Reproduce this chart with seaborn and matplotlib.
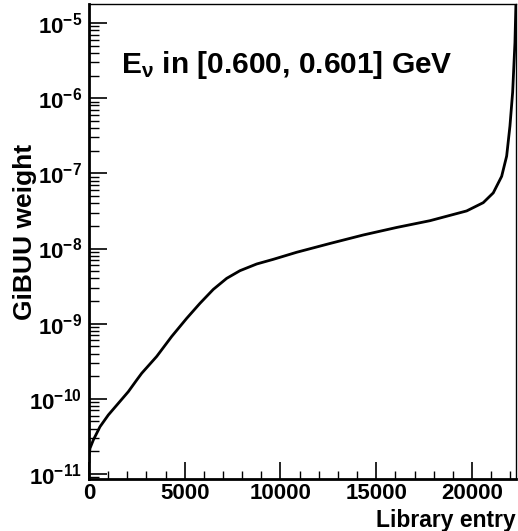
"""
GiBUU weight per library entry, ROOT-style log plot.
"""

import matplotlib
matplotlib.use("Agg")
import matplotlib.pyplot as plt
import matplotlib.ticker as mticker
import numpy as np
import pandas as pd
import seaborn as sns

# values
entries = [0, 0, 52, 225, 574, 1008, 1530, 2052, 2491, 2752, 3535, 4319,
           5102, 5796, 6491, 7191, 7885, 8757, 9624, 10846, 12585, 14324,
           16068, 17807, 19723, 20590, 21112, 21551, 21812, 21984, 22125,
           22245, 22300]
log_weights = [-10.85, -10.77, -10.658, -10.548, -10.371, -10.215, -10.06,
               -9.905, -9.75, -9.66, -9.436, -9.17, -8.929, -8.729, -8.544,
               -8.397, -8.295, -8.206, -8.144, -8.05, -7.933, -7.82, -7.72,
               -7.63, -7.50, -7.39, -7.26, -7.04, -6.77, -6.37, -5.92, -5.26,
               -4.70]
weights = [10.0 ** v for v in log_weights]

x_ticks = [0, 5000, 10000, 15000, 20000]
y_ticks = [1e-11, 1e-10, 1e-9, 1e-8, 1e-7, 1e-6, 1e-5]
x_range = (0, 22300)
y_range = (10 ** -11.0665, 10 ** -4.747)

title_text = r"E$_{\nu}$ in [0.600, 0.601] GeV"
x_title = "Library entry"
y_title = "GiBUU weight"

sns.set_style("ticks")
plt.rcParams["font.family"] = ["Liberation Sans", "DejaVu Sans"]
plt.rcParams["font.weight"] = "bold"
plt.rcParams["text.color"] = "black"
plt.rcParams["mathtext.fontset"] = "custom"
plt.rcParams["mathtext.rm"] = "Liberation Sans:bold"
plt.rcParams["mathtext.bf"] = "Liberation Sans:bold"
plt.rcParams["mathtext.it"] = "Liberation Sans:bold"
plt.rcParams["mathtext.sf"] = "Liberation Sans:bold"

W, H = 518, 531
fig = plt.figure(figsize=(W / 100, H / 100), dpi=100)
ax = fig.add_axes([89 / W, 1 - 479 / H, (516 - 89) / W, (479 - 4) / H])

df = pd.DataFrame({"entry": entries, "weight": weights})
sns.lineplot(data=df, x="entry", y="weight", ax=ax, color="black",
             linewidth=2.0, sort=False, estimator=None)

ax.set_yscale("log")
ax.set_xlim(*x_range)
ax.set_ylim(*y_range)

ax.set_xticks(x_ticks)
ax.xaxis.set_minor_locator(mticker.MultipleLocator(1000))
ax.yaxis.set_major_locator(mticker.FixedLocator(y_ticks))
ax.yaxis.set_major_formatter(mticker.LogFormatterSciNotation())
ax.yaxis.set_minor_locator(mticker.LogLocator(base=10, subs=np.arange(2, 10), numticks=20))
ax.yaxis.set_minor_formatter(mticker.NullFormatter())

ax.tick_params(axis="both", which="both", direction="in", colors="black")
ax.tick_params(axis="x", which="major", length=12, width=1.2, labelsize=16, pad=3)
ax.tick_params(axis="x", which="minor", length=6, width=1.0)
ax.tick_params(axis="y", which="major", length=13, width=1.2, labelsize=16, pad=5)
ax.tick_params(axis="y", which="minor", length=7, width=1.0)
for lab in ax.get_xticklabels() + ax.get_yticklabels():
    lab.set_fontweight("bold")
    lab.set_color("black")

ax.spines["left"].set_linewidth(2.0)
ax.spines["bottom"].set_linewidth(2.0)
ax.spines["top"].set_linewidth(1.0)
ax.spines["right"].set_linewidth(1.0)
for s in ax.spines.values():
    s.set_color("black")

ax.set_xlabel("")
ax.set_ylabel("")
ax.xaxis.label.set_visible(False)
ax.yaxis.label.set_visible(False)

fig.text(516 / W, 1 - 527 / H, x_title, ha="right", va="baseline",
         fontsize=16.5, fontweight="bold", color="black")
fig.text(25 / W, 1 - 232 / H, y_title, ha="center", va="center",
         rotation=90, fontsize=19, fontweight="bold", color="black")
fig.text(121 / W, 1 - 73 / H, title_text, ha="left", va="baseline",
         fontsize=21.5, fontweight="bold", color="black")

fig.savefig("out.png", dpi=100)
plt.close(fig)
